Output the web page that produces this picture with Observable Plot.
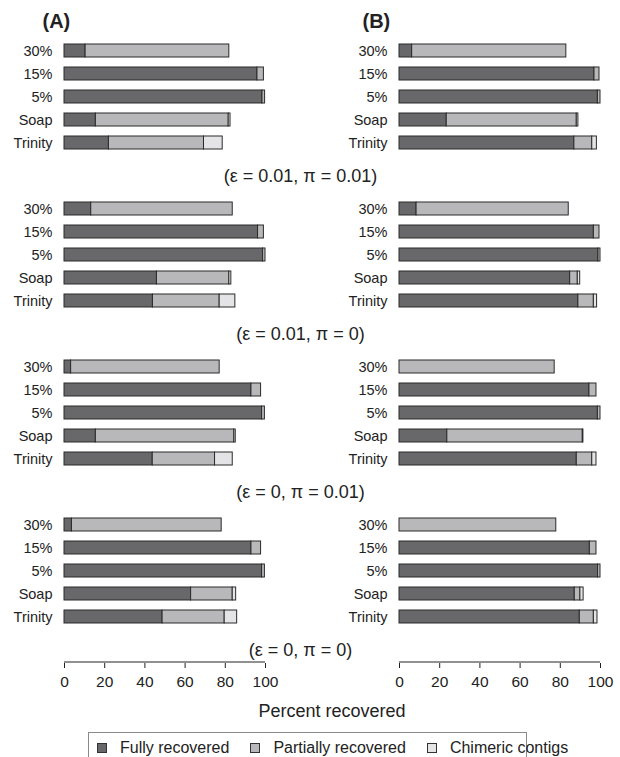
<!DOCTYPE html>
<html>
<head>
<meta charset="utf-8">
<script src="https://cdn.jsdelivr.net/npm/d3@7"></script>
<script src="https://cdn.jsdelivr.net/npm/@observablehq/plot@0.6"></script>
<style>
  html, body { margin: 0; padding: 0; background: #fff; }
  body { font-family: "Liberation Sans", Arial, Helvetica, sans-serif; color: #222; }
  #wrap { position: relative; width: 620px; height: 757px; overflow: hidden; }
  #wrap svg { position: absolute; left: 0; top: 0; overflow: visible; }
  #xlabel { position: absolute; left: 64px; width: 536px; top: 700px; text-align: center; font-size: 18px; line-height: 22px; }
  #legend { position: absolute; left: 88px; top: 732px; width: 439px; height: 40px; border: 1.5px solid #8a8a8a; box-sizing: border-box; display: flex; align-items: flex-start; padding: 6px 0 0 8px; font-size: 16px; line-height: 18px; }
  .item { display: flex; align-items: center; margin-right: 21px; white-space: nowrap; }
  .sw { width: 8px; height: 8px; border: 1px solid #333; margin-right: 13px; }
</style>
</head>
<body>
<div id="wrap">
  <div id="xlabel">Percent recovered</div>
  <div id="legend"></div>
</div>
<script>
// Simulation settings (rows) and panels (columns)
const conditions = ["(ε = 0.01, π = 0.01)", "(ε = 0.01, π = 0)", "(ε = 0, π = 0.01)", "(ε = 0, π = 0)"];
const panels = ["(A)", "(B)"];
const methods = ["30%", "15%", "5%", "Soap", "Trinity"];
const types = ["Fully recovered", "Partially recovered", "Chimeric contigs"];
const typeColors = ["#68686a", "#b8b8ba", "#e4e4e6"];
const xTicks = [0, 20, 40, 60, 80, 100];

// Percent of transcripts per outcome; one row per condition, one value per method
const fullyA = [
  [10.5, 96.0, 98.5, 15.6, 22.1],
  [13.3, 96.3, 98.8, 46.0, 44.0],
  [3.3, 93.0, 98.3, 15.6, 43.9],
  [3.7, 93.0, 98.3, 63.0, 48.8]
];
const partialA = [
  [71.5, 3.2, 1.3, 66.1, 47.3],
  [70.4, 2.9, 1.2, 36.0, 33.2],
  [73.9, 4.8, 1.4, 68.9, 31.0],
  [74.5, 4.8, 1.4, 20.7, 30.9]
];
const chimericA = [
  [0, 0, 0, 0.9, 9.3],
  [0, 0, 0, 1.0, 7.8],
  [0, 0, 0, 0.7, 8.8],
  [0, 0, 0, 1.7, 6.2]
];
const fullyB = [
  [6.3, 97.0, 98.7, 23.5, 87.0],
  [8.5, 96.7, 99.0, 84.9, 89.0],
  [0, 94.5, 98.7, 23.8, 88.2],
  [0, 94.7, 98.8, 87.2, 89.7]
];
const partialB = [
  [76.7, 2.5, 1.3, 64.7, 8.9],
  [75.7, 2.8, 1.0, 3.8, 7.7],
  [77.2, 3.5, 1.3, 67.4, 7.7],
  [78.0, 3.3, 1.2, 2.8, 7.0]
];
const chimericB = [
  [0, 0, 0, 0.8, 2.3],
  [0, 0, 0, 1.2, 1.6],
  [0, 0, 0, 0.3, 2.1],
  [0, 0, 0, 1.6, 1.8]
];

const series = {
  "(A)": [fullyA, partialA, chimericA],
  "(B)": [fullyB, partialB, chimericB]
};

// Long table: one row per stacked segment
const rows = [];
const labelRows = [];
for (const panel of panels) {
  conditions.forEach((condition, ci) => {
    methods.forEach((method, mi) => {
      labelRows.push({panel, condition, method});
      types.forEach((type, ti) => {
        const value = series[panel][ti][ci][mi];
        if (value > 0) rows.push({panel, condition, method, type, value});
      });
    });
  });
}
const lastCondition = conditions[conditions.length - 1];
const lastMethod = methods[methods.length - 1];
const captionRows = conditions.map((condition) => ({panel: "(A)", condition}));
const axisLineRows = panels.map((panel) => ({panel, condition: lastCondition, method: lastMethod}));
const headA = [{panel: "(A)", condition: conditions[0], text: "(A)"}];
const headB = [{panel: "(B)", condition: conditions[0], text: "(B)"}];

const chart = Plot.plot({
  width: 620,
  height: 722,
  marginTop: 36,
  marginLeft: 64,
  marginRight: 20,
  marginBottom: 92,
  style: {fontFamily: "'Liberation Sans', Arial, Helvetica, sans-serif", fontSize: "15px", color: "#222", background: "transparent"},
  fx: {domain: panels, paddingInner: 0.4, paddingOuter: 0, axis: null},
  fy: {domain: conditions, paddingInner: 0.25, paddingOuter: 0, axis: null},
  x: {domain: [0, 100], label: null},
  y: {domain: methods, paddingInner: 0.45, paddingOuter: 0.225, axis: null},
  color: {domain: types, range: typeColors},
  marks: [
    Plot.barX(rows, {
      x: "value", y: "method", fx: "panel", fy: "condition",
      fill: "type", stroke: "#2a2a2a", strokeWidth: 1
    }),
    Plot.text(labelRows, {
      y: "method", fx: "panel", fy: "condition", text: "method",
      frameAnchor: "left", textAnchor: "end", dx: -12, fontSize: 14.5, fill: "#222"
    }),
    Plot.text(captionRows, {
      fx: "panel", fy: "condition", text: "condition",
      frameAnchor: "bottom-right", textAnchor: "middle", lineAnchor: "middle",
      dx: 35, dy: 20, fontSize: 18, fill: "#222"
    }),
    Plot.text(headA, {
      fx: "panel", fy: "condition", text: "text",
      frameAnchor: "top-left", textAnchor: "start", lineAnchor: "middle",
      dx: -22, dy: -16, fontSize: 20, fontWeight: "bold", fill: "#222"
    }),
    Plot.text(headB, {
      fx: "panel", fy: "condition", text: "text",
      frameAnchor: "top-left", textAnchor: "start", lineAnchor: "middle",
      dx: -37, dy: -16, fontSize: 20, fontWeight: "bold", fill: "#222"
    }),
    // Axis baseline under the last row of each panel
    Plot.ruleY(axisLineRows, {
      y: "method", fx: "panel", fy: "condition", x1: 0, x2: 100,
      dy: 45, stroke: "#222", strokeWidth: 1
    }),
    Plot.axisX({
      ticks: xTicks, tickSize: 5, tickPadding: 7, dy: 33,
      label: null, fontSize: 15.5, stroke: "#222"
    })
  ]
});

const wrap = document.getElementById("wrap");
wrap.insertBefore(chart, wrap.firstChild);

// Legend below the plot
const legend = document.getElementById("legend");
types.forEach((t, i) => {
  const item = document.createElement("div");
  item.className = "item";
  const sw = document.createElement("span");
  sw.className = "sw";
  sw.style.background = typeColors[i];
  const label = document.createElement("span");
  label.textContent = t;
  item.appendChild(sw);
  item.appendChild(label);
  legend.appendChild(item);
});
</script>
</body>
</html>
